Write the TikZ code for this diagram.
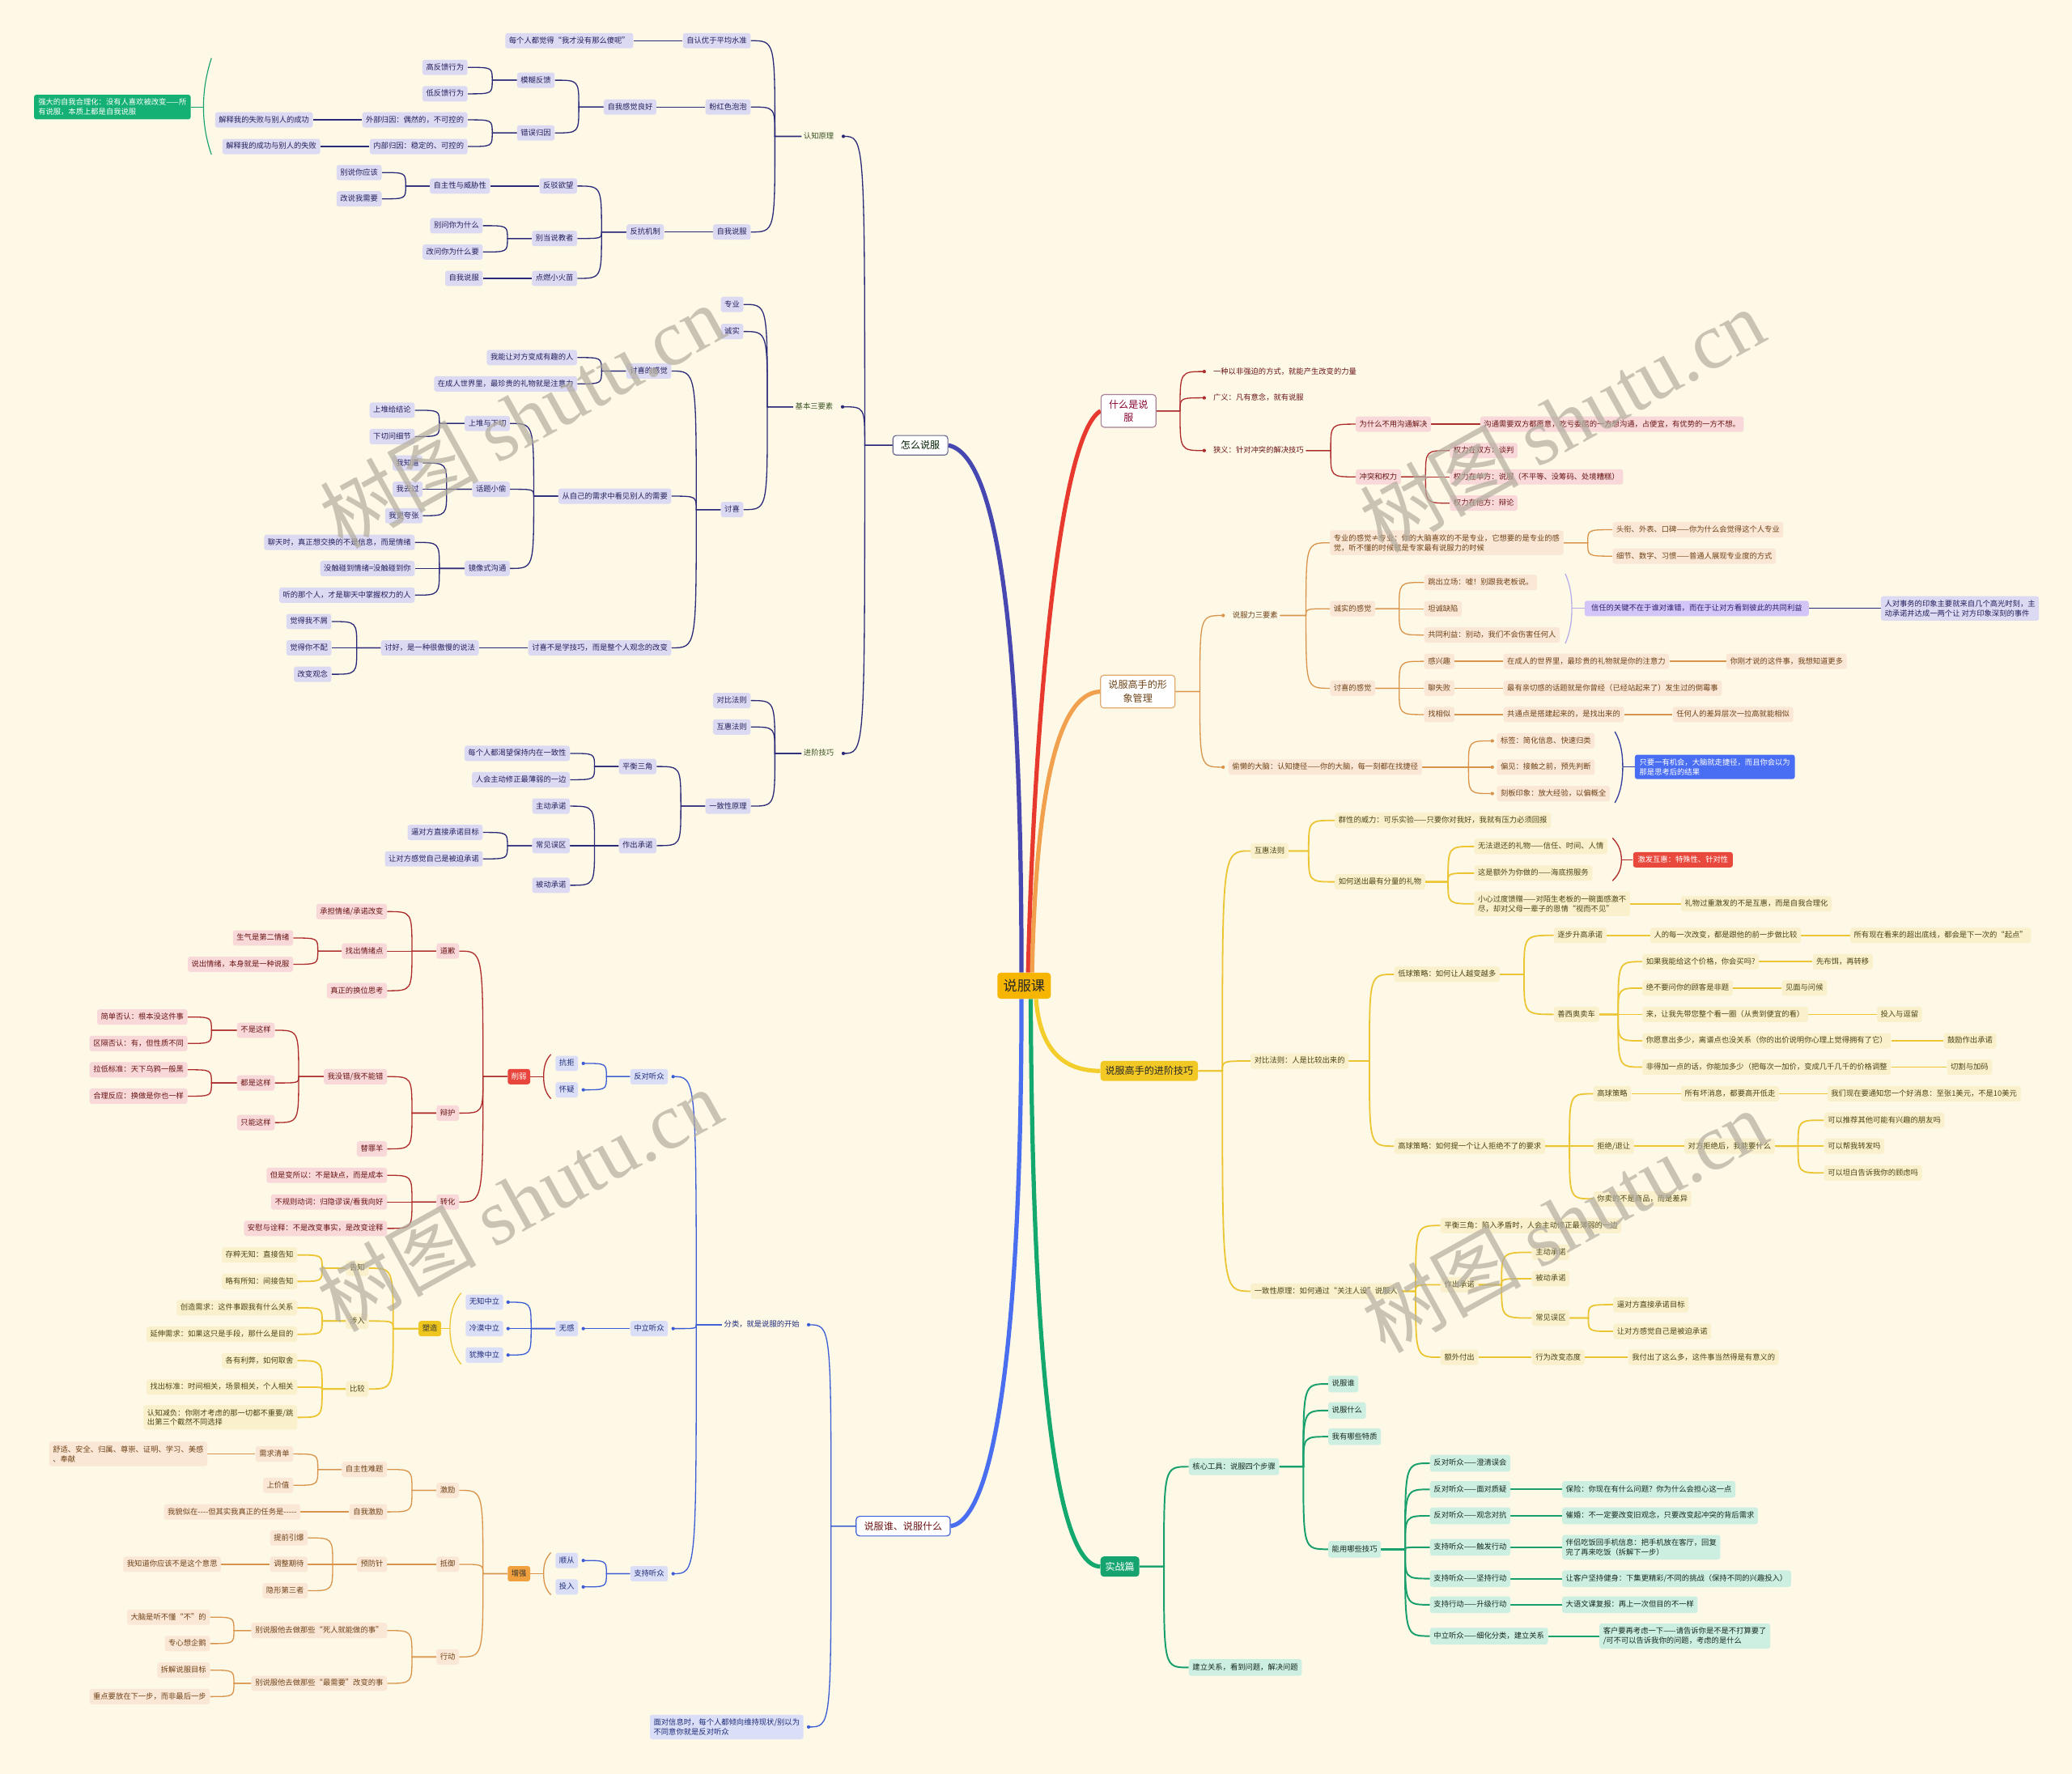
\documentclass[tikz,border=0pt]{standalone}
\usepackage{fontspec}
\setmainfont{Noto Sans CJK SC}
\newfontfamily\wmlat{Liberation Serif}
\usetikzlibrary{calc}
\pgfdeclarelayer{back}
\pgfdeclarelayer{lines}
\pgfsetlayers{back,lines,main}
\definecolor{bgc}{HTML}{FEF8E7}
\definecolor{puL}{HTML}{2B2A78}\definecolor{puF}{HTML}{DCDAF2}\definecolor{puT}{HTML}{23205C}\definecolor{labPT}{HTML}{3A5320}
\definecolor{buL}{HTML}{3B5CD4}\definecolor{buF}{HTML}{DADFF7}\definecolor{buT}{HTML}{1E2B78}
\definecolor{rdL}{HTML}{AE2B2B}\definecolor{rdF}{HTML}{F8D8D9}\definecolor{rdT}{HTML}{6A1515}
\definecolor{ogL}{HTML}{D8944A}\definecolor{ogF}{HTML}{FBE7D6}\definecolor{ogT}{HTML}{6E4318}
\definecolor{ylL}{HTML}{EBC532}\definecolor{ylF}{HTML}{FAF0CB}\definecolor{ylT}{HTML}{4A4515}
\definecolor{gnL}{HTML}{17A06C}\definecolor{gnF}{HTML}{CDEFE2}\definecolor{gnT}{HTML}{18291F}
\definecolor{mP}{HTML}{4747B2}\definecolor{mR}{HTML}{E8392E}\definecolor{mO}{HTML}{F1A14E}
\definecolor{mY}{HTML}{F2CD2C}\definecolor{mG}{HTML}{13A86E}\definecolor{mB}{HTML}{4A6EF0}
\definecolor{rootF}{HTML}{F6B500}\definecolor{m4F}{HTML}{F2C824}\definecolor{m5F}{HTML}{15A46F}
\definecolor{xrF}{HTML}{E8463C}\definecolor{szF}{HTML}{EFC61E}\definecolor{zqF}{HTML}{F0A03C}
\definecolor{redboxF}{HTML}{E9493D}\definecolor{blueboxF}{HTML}{4A6EF3}
\definecolor{trustF}{HTML}{D3C5F7}\definecolor{trustT}{HTML}{2A1E6A}\definecolor{trustL}{HTML}{B9AEE8}
\definecolor{sumF}{HTML}{14B074}
\definecolor{wmC}{HTML}{B3AD9F}
\newcommand\fsm{\fontsize{5.7}{7.2}\selectfont}
\newcommand\fmd{\fontsize{7.4}{10}\selectfont}
\newcommand\frt{\fontsize{10.5}{12}\selectfont}
\newcommand\lnk[4][]{\draw[#1] let \p1=(#2.west), \p2=(#4.east) in (\p1) -- (#3pt,\y1) .. controls (#3pt,\y2) and (#3pt,\y2) .. (\p2);}
\newcommand\lnkd[5][]{\draw[#1] let \p1=(#2.west), \p2=(#4.east) in (\p1) -- (#3pt,\y1) .. controls (#3pt,\y2) and (#3pt,\y2) .. ({\x2+#5pt},\y2) node[dotn]{};}
\newcommand\rnk[4][]{\draw[#1] let \p1=(#2.east), \p2=(#4.west) in (\p1) -- (#3pt,\y1) .. controls (#3pt,\y2) and (#3pt,\y2) .. (\p2);}
\newcommand\rnkd[5][]{\draw[#1] let \p1=(#2.east), \p2=(#4.west) in (\p1) -- (#3pt,\y1) .. controls (#3pt,\y2) and (#3pt,\y2) .. ({\x2-#5pt},\y2) node[dotn]{};}
\newcommand\lnks[4][]{\foreach \cc in {#4}{\lnk[#1]{#2}{#3}{\cc}}}
\newcommand\rnks[4][]{\foreach \cc in {#4}{\rnk[#1]{#2}{#3}{\cc}}}
\newcommand\lnkds[5][]{\foreach \cc in {#4}{\lnkd[#1]{#2}{#3}{\cc}{#5}}}
\newcommand\rnkds[5][]{\foreach \cc in {#4}{\rnkd[#1]{#2}{#3}{\cc}{#5}}}
\tikzset{
 nb/.style={font=\fsm, inner xsep=2.8pt, inner ysep=3pt, text height=4.6pt, text depth=1pt, rounded corners=1.8pt},
 two/.style={text height={}, text depth={}, align=left, inner ysep=3pt},
 pu/.style={nb, fill=puF, text=puT},
 bu/.style={nb, fill=buF, text=buT},
 rd/.style={nb, fill=rdF, text=rdT},
 og/.style={nb, fill=ogF, text=ogT},
 yl/.style={nb, fill=ylF, text=ylT},
 gn/.style={nb, fill=gnF, text=gnT, inner ysep=3.5pt},
 labP/.style={nb, inner xsep=1.5pt, text=labPT},
 labB/.style={nb, inner xsep=1.5pt, text=buT},
 labR/.style={nb, inner xsep=1.5pt, text=rdT},
 labO/.style={nb, inner xsep=1.5pt, text=ogT},
 xrs/.style={nb, fill=xrF, text=white},
 szs/.style={nb, fill=szF, text=black!80},
 zqs/.style={nb, fill=zqF, text=black!80},
 redbox/.style={nb, fill=redboxF, text=white, inner xsep=3.5pt},
 bluebox/.style={nb, two, fill=blueboxF, text=white, inner xsep=3.5pt},
 trust/.style={nb, fill=trustF, text=trustT, inner xsep=5pt},
 sumg/.style={nb, two, fill=sumF, text=white, inner xsep=3.2pt},
 mainw/.style={font=\fmd, fill=white, draw, rounded corners=2.5pt, inner xsep=6pt, inner ysep=4pt, line width=0.7pt},
 mainf/.style={font=\fmd, rounded corners=2.5pt, inner xsep=3.6pt, inner ysep=4.2pt},
 rootn/.style={font=\frt, fill=rootF, text=black!85, rounded corners=2.5pt, inner xsep=4.5pt, inner ysep=5pt},
 pl/.style={color=puL, line width=0.8pt},
 bl/.style={color=buL, line width=0.8pt},
 rl/.style={color=rdL, line width=0.8pt},
 ol/.style={color=ogL, line width=0.8pt},
 yll/.style={color=ylL, line width=1.1pt},
 gl/.style={color=gnL, line width=1.2pt},
 dotn/.style={circle, fill, inner sep=0pt, minimum size=2.6pt},
 thick main/.style={line width=3.2pt},
 wm/.style={font=\fontsize{60}{60}\selectfont, text=wmC, text opacity=0.7, rotate=29},
}
\begin{document}
\begin{tikzpicture}[x=1pt,y=-1pt]
\useasboundingbox (0,0) rectangle (1568,1342.6);
\begin{pgfonlayer}{back}
\fill[bgc] (0,0) rectangle (1568,1342.6);
\end{pgfonlayer}

% ---------- root and main topics
\node[rootn] (root) at (775,746) {说服课};
\node[mainw, draw=black!35!puF!60!puL, text=black!70!green!40!black] (m1) at (696.5,337) {怎么说服};
\node[mainw, draw=rdL!50!puL!60, text=purple!70!black, align=center] (m2) at (854,311) {什么是说\\服};
\node[mainw, draw=ogL!80, text=ogT, align=center] (m3) at (861,523.4) {说服高手的形\\象管理};
\node[mainf, fill=m4F, text=black!85] (m4) at (869.7,810.5) {说服高手的进阶技巧};
\node[mainf, fill=m5F, text=white] (m5) at (847.5,1185.6) {实战篇};
\node[mainw, draw=buL, text=rdT] (m6) at (683.5,1155) {说服谁、说服什么};

% ---------- branch: 怎么说服
\node[labP,anchor=east] (kA) at (632.7,103.2) {认知原理};
\node[labP,anchor=east] (kB) at (632.1,307.9) {基本三要素};
\node[labP,anchor=east] (kC) at (632.7,570.2) {进阶技巧};

\node[pu,anchor=east] (a1) at (568.2,30.8) {自认优于平均水准};
\node[pu,anchor=east] (a11) at (479.4,30.8) {每个人都觉得“我才没有那么傻呢”};
\node[pu,anchor=east] (a2) at (568.2,81) {粉红色泡泡};
\node[pu,anchor=east] (a21) at (496.9,81) {自我感觉良好};
\node[pu,anchor=east] (a211) at (419.9,60.7) {模糊反馈};
\node[pu,anchor=east] (a212) at (419.9,100.6) {错误归因};
\node[pu,anchor=east] (a2111) at (354,51) {高反馈行为};
\node[pu,anchor=east] (a2112) at (354,71) {低反馈行为};
\node[pu,anchor=east] (a2121) at (354,90.7) {外部归因：偶然的，不可控的};
\node[pu,anchor=east] (a2122) at (354,110.9) {内部归因：稳定的、可控的};
\node[pu,anchor=east] (a21211) at (237,90.7) {解释我的失败与别人的成功};
\node[pu,anchor=east] (a21221) at (242.5,110.9) {解释我的成功与别人的失败};
\node[sumg,anchor=east] (sg) at (144.5,81) {强大的自我合理化：没有人喜欢被改变——所\\有说服，本质上都是自我说服};
\coordinate (gT) at (160,44);
\coordinate (gM) at (154,81);
\coordinate (gB) at (160,117);
\node[pu,anchor=east] (a3) at (568.2,175.6) {自我说服};
\node[pu,anchor=east] (a31) at (502.7,175.6) {反抗机制};
\node[pu,anchor=east] (a311) at (436.9,140.8) {反驳欲望};
\node[pu,anchor=east] (a312) at (436.9,180.5) {别当说教者};
\node[pu,anchor=east] (a313) at (436.9,210.7) {点燃小火苗};
\node[pu,anchor=east] (a3111) at (371,140.8) {自主性与威胁性};
\node[pu,anchor=east] (a31111) at (289,130.6) {别说你应该};
\node[pu,anchor=east] (a31112) at (289,150.5) {改说我需要};
\node[pu,anchor=east] (a3121) at (365.5,170.8) {别问你为什么};
\node[pu,anchor=east] (a3122) at (365.5,190.7) {改问你为什么要};
\node[pu,anchor=east] (a3131) at (365.5,210.7) {自我说服};

\node[pu,anchor=east] (b1) at (562.7,230.4) {专业};
\node[pu,anchor=east] (b2) at (562.7,250.9) {诚实};
\node[pu,anchor=east] (b3) at (562.7,385.7) {讨喜};
\node[pu,anchor=east] (b31) at (508.2,280.8) {讨喜的感觉};
\node[pu,anchor=east] (b32) at (508.2,375.5) {从自己的需求中看见别人的需要};
\node[pu,anchor=east] (b33) at (508.2,490.3) {讨喜不是学技巧，而是整个人观念的改变};
\node[pu,anchor=east] (b311) at (436.9,270.6) {我能让对方变成有趣的人};
\node[pu,anchor=east] (b312) at (436.9,290.5) {在成人世界里，最珍贵的礼物就是注意力};
\node[pu,anchor=east] (b321) at (386,320.5) {上堆与下切};
\node[pu,anchor=east] (b322) at (386,370.3) {话题小偷};
\node[pu,anchor=east] (b323) at (386,430.2) {镜像式沟通};
\node[pu,anchor=east] (b3211) at (314,310.5) {上堆给结论};
\node[pu,anchor=east] (b3212) at (314,330.4) {下切问细节};
\node[pu,anchor=east] (b3221) at (320,350.4) {我知道};
\node[pu,anchor=east] (b3222) at (320,370.3) {我去过};
\node[pu,anchor=east] (b3223) at (320,390.3) {我更夸张};
\node[pu,anchor=east] (b3231) at (314,410.5) {聊天时，真正想交换的不是信息，而是情绪};
\node[pu,anchor=east] (b3232) at (314,430.2) {没触碰到情绪=没触碰到你};
\node[pu,anchor=east] (b3233) at (314,450.4) {听的那个人，才是聊天中掌握权力的人};
\node[pu,anchor=east] (b331) at (362.5,490.3) {讨好，是一种很傲慢的说法};
\node[pu,anchor=east] (b3311) at (251,470.4) {觉得我不屑};
\node[pu,anchor=east] (b3312) at (251,490.3) {觉得你不配};
\node[pu,anchor=east] (b3313) at (251,510.3) {改变观念};

\node[pu,anchor=east] (c1) at (568.2,530.2) {对比法则};
\node[pu,anchor=east] (c2) at (568.2,550.2) {互惠法则};
\node[pu,anchor=east] (c3) at (568.2,610.1) {一致性原理};
\node[pu,anchor=east] (c31) at (496.9,580.1) {平衡三角};
\node[pu,anchor=east] (c32) at (496.9,640) {作出承诺};
\node[pu,anchor=east] (c311) at (431.4,570.2) {每个人都渴望保持内在一致性};
\node[pu,anchor=east] (c312) at (431.4,590.1) {人会主动修正最薄弱的一边};
\node[pu,anchor=east] (c321) at (431.4,610.1) {主动承诺};
\node[pu,anchor=east] (c322) at (431.4,640) {常见误区};
\node[pu,anchor=east] (c323) at (431.4,670) {被动承诺};
\node[pu,anchor=east] (c3221) at (365.5,630) {逼对方直接承诺目标};
\node[pu,anchor=east] (c3222) at (365.5,650) {让对方感觉自己是被迫承诺};

% ---------- branch: 说服谁、说服什么
\node[labB,anchor=east] (f1) at (606.7,1002.6) {分类，就是说服的开始};
\node[bu,two,anchor=east] (f2) at (608.2,1307) {面对信息时，每个人都倾向维持现状/别以为\\不同意你就是反对听众};
\node[bu,anchor=east] (g1) at (505.6,814.8) {反对听众};
\node[bu,anchor=east] (g2) at (505.6,1005.5) {中立听众};
\node[bu,anchor=east] (g3) at (505.6,1191) {支持听众};
\node[bu,anchor=east] (g11) at (437.6,804.8) {抗拒};
\node[bu,anchor=east] (g12) at (437.6,824.8) {怀疑};
\node[bu,anchor=east] (g21) at (437.6,1005.5) {无感};
\node[bu,anchor=east] (g211) at (381,985.5) {无知中立};
\node[bu,anchor=east] (g212) at (381,1005.5) {冷漠中立};
\node[bu,anchor=east] (g213) at (381,1025.5) {犹豫中立};
\node[bu,anchor=east] (g31) at (437.6,1181) {顺从};
\node[bu,anchor=east] (g32) at (437.6,1201) {投入};
\node[xrs,anchor=east] (xr) at (401.4,814.8) {削弱};
\node[szs,anchor=east] (sz) at (334,1005.5) {塑造};
\node[zqs,anchor=east] (zq) at (401.4,1191) {增强};
\coordinate (xrT) at (416.9,798); \coordinate (xrM) at (411.4,814.8); \coordinate (xrB) at (416.9,831.5);
\coordinate (szT) at (349,978.5); \coordinate (szM) at (340.5,1005.5); \coordinate (szB) at (349,1032.5);
\coordinate (zqT) at (416.9,1175); \coordinate (zqM) at (411.4,1191); \coordinate (zqB) at (416.9,1207);

\node[rd,anchor=east] (r1) at (347.5,719.8) {道歉};
\node[rd,anchor=east] (r2) at (347.5,842.4) {辩护};
\node[rd,anchor=east] (r3) at (347.5,909.7) {转化};
\node[rd,anchor=east] (r11) at (293,689.9) {承担情绪/承诺改变};
\node[rd,anchor=east] (r12) at (293,719.8) {找出情绪点};
\node[rd,anchor=east] (r13) at (293,749.8) {真正的换位思考};
\node[rd,anchor=east] (r121) at (222,709.9) {生气是第二情绪};
\node[rd,anchor=east] (r122) at (222,729.8) {说出情绪，本身就是一种说服};
\node[rd,anchor=east] (r21) at (293,814.8) {我没错/我不能错};
\node[rd,anchor=east] (r22) at (293,869.5) {替罪羊};
\node[rd,anchor=east] (r211) at (208,779.7) {不是这样};
\node[rd,anchor=east] (r212) at (208,819.6) {都是这样};
\node[rd,anchor=east] (r213) at (208,849.6) {只能这样};
\node[rd,anchor=east] (r2111) at (142,769.7) {简单否认：根本没这件事};
\node[rd,anchor=east] (r2112) at (142,789.7) {区隔否认：有，但性质不同};
\node[rd,anchor=east] (r2121) at (142,809.6) {拉低标准：天下乌鸦一般黑};
\node[rd,anchor=east] (r2122) at (142,829.6) {合理反应：换做是你也一样};
\node[rd,anchor=east] (r31) at (293,889.5) {但是变所以：不是缺点，而是成本};
\node[rd,anchor=east] (r32) at (293,909.7) {不规则动词：归隐谬误/看我向好};
\node[rd,anchor=east] (r33) at (293,929.7) {安慰与诠释：不是改变事实，是改变诠释};

\node[yl,anchor=east] (y1) at (279,959.8) {告知};
\node[yl,anchor=east] (y2) at (279,999.8) {涉入};
\node[yl,anchor=east] (y3) at (279,1051.2) {比较};
\node[yl,anchor=east] (y11) at (225,949.8) {存粹无知：直接告知};
\node[yl,anchor=east] (y12) at (225,969.8) {略有所知：间接告知};
\node[yl,anchor=east] (y21) at (225,989.8) {创造需求：这件事跟我有什么关系};
\node[yl,anchor=east] (y22) at (225,1009.8) {延伸需求：如果这只是手段，那什么是目的};
\node[yl,anchor=east] (y31) at (225,1029.8) {各有利弊，如何取舍};
\node[yl,anchor=east] (y32) at (225,1049.8) {找出标准：时间相关，场景相关，个人相关};
\node[yl,two,anchor=east] (y33) at (225,1072.7) {认知减负：你刚才考虑的那一切都不重要/跳\\出第三个截然不同选择};

\node[og,anchor=east] (o1) at (347.5,1127.9) {激励};
\node[og,anchor=east] (o2) at (347.5,1183.9) {抵御};
\node[og,anchor=east] (o3) at (347.5,1254) {行动};
\node[og,anchor=east] (o11) at (293,1112.1) {自主性难题};
\node[og,anchor=east] (o12) at (293,1144.2) {自我激励};
\node[og,anchor=east] (o111) at (222,1100.4) {需求清单};
\node[og,anchor=east] (o112) at (222,1124.1) {上价值};
\node[og,two,anchor=east] (o1111) at (157,1100.4) {舒适、安全、归属、尊崇、证明、学习、美感\\、奉献};
\node[og,anchor=east] (o121) at (227.5,1144.2) {我貌似在-{}-{}-{}-但其实我真正的任务是-{}-{}-{}-{}-};
\node[og,anchor=east] (o21) at (293,1183.9) {预防针};
\node[og,anchor=east] (o211) at (233,1163.9) {提前引爆};
\node[og,anchor=east] (o212) at (233,1183.9) {调整期待};
\node[og,anchor=east] (o213) at (233,1203.9) {隐形第三者};
\node[og,anchor=east] (o2121) at (167.5,1183.9) {我知道你应该不是这个意思};
\node[og,anchor=east] (o31) at (293,1234) {别说服他去做那些“死人就能做的事”};
\node[og,anchor=east] (o32) at (293,1274) {别说服他去做那些“最需要”改变的事};
\node[og,anchor=east] (o311) at (159,1223.9) {大脑是听不懂“不”的};
\node[og,anchor=east] (o312) at (159,1243.9) {专心想企鹅};
\node[og,anchor=east] (o321) at (159,1264) {拆解说服目标};
\node[og,anchor=east] (o322) at (159,1284) {重点要放在下一步，而非最后一步};

% ---------- branch: 什么是说服
\node[labR,anchor=west] (w1) at (916.5,281.2) {一种以非强迫的方式，就能产生改变的力量};
\node[labR,anchor=west] (w2) at (916.5,301.1) {广义：凡有意念，就有说服};
\node[labR,anchor=west] (w3) at (916.5,341) {狭义：针对冲突的解决技巧};
\node[rd,anchor=west] (w31) at (1025.8,321) {为什么不用沟通解决};
\node[rd,anchor=west] (w32) at (1025.8,360.9) {冲突和权力};
\node[rd,anchor=west] (w311) at (1120,321) {沟通需要双方都愿意，吃亏委屈的一方想沟通，占便宜，有优势的一方不想。};
\node[rd,anchor=west] (w321) at (1097,341) {权力在双方：谈判};
\node[rd,anchor=west] (w322) at (1097,360.9) {权力在单方：说服（不平等、没筹码、处境糟糕）};
\node[rd,anchor=west] (w323) at (1097,380.8) {权力在他方：辩论};

% ---------- branch: 形象管理
\node[labO,anchor=west] (v1) at (931.1,465.8) {说服力三要素};
\node[og,anchor=west] (v2) at (929.5,580.6) {偷懒的大脑：认知捷径——你的大脑，每一刻都在找捷径};
\node[og,two,anchor=west] (v11) at (1006.3,410.8) {专业的感觉≠专业：你的大脑喜欢的不是专业，它想要的是专业的感\\觉，听不懂的时候就是专家最有说服力的时候};
\node[og,anchor=west] (v12) at (1006.3,460.7) {诚实的感觉};
\node[og,anchor=west] (v13) at (1006.3,520.9) {讨喜的感觉};
\node[og,anchor=west] (v111) at (1220.2,400.9) {头衔、外表、口碑——你为什么会觉得这个人专业};
\node[og,anchor=west] (v112) at (1220.2,420.9) {细节、数字、习惯——普通人展现专业度的方式};
\node[og,anchor=west] (v121) at (1077.6,440.8) {跳出立场：嘘！别跟我老板说。};
\node[og,anchor=west] (v122) at (1077.6,460.7) {坦诚缺陷};
\node[og,anchor=west] (v123) at (1077.6,480.6) {共同利益：别动，我们不会伤害任何人};
\node[trust,anchor=west] (tr) at (1199,460.5) {信任的关键不在于谁对谁错，而在于让对方看到彼此的共同利益};
\node[pu,two,anchor=west] (tr2) at (1423.2,460.5) {人对事务的印象主要就来自几个高光时刻，主\\动承诺并达成一两个让 对方印象深刻的事件};
\coordinate (trT) at (1184.5,434.2); \coordinate (trM) at (1189.5,460.5); \coordinate (trB) at (1184.5,487);
\node[og,anchor=west] (v131) at (1077.6,500.5) {感兴趣};
\node[og,anchor=west] (v132) at (1077.6,520.9) {聊失败};
\node[og,anchor=west] (v133) at (1077.6,540.8) {找相似};
\node[og,anchor=west] (v1311) at (1137.6,500.5) {在成人的世界里，最珍贵的礼物就是你的注意力};
\node[og,anchor=west] (v13111) at (1306.2,500.5) {你刚才说的这件事，我想知道更多};
\node[og,anchor=west] (v1321) at (1137.6,520.9) {最有亲切感的话题就是你曾经（已经站起来了）发生过的倒霉事};
\node[og,anchor=west] (v1331) at (1137.6,540.8) {共通点是搭建起来的，是找出来的};
\node[og,anchor=west] (v13311) at (1265.7,540.8) {任何人的差异层次一拉高就能相似};
\node[og,anchor=west] (v21) at (1132.6,560.7) {标签：简化信息、快速归类};
\node[og,anchor=west] (v22) at (1132.6,580.6) {偏见：接触之前，预先判断};
\node[og,anchor=west] (v23) at (1132.6,600.6) {刻板印象：放大经验，以偏概全};
\node[bluebox,anchor=west] (bx) at (1237,580.4) {只要一有机会，大脑就走捷径，而且你会以为\\那是思考后的结果};
\coordinate (bxT) at (1222,553.7); \coordinate (bxM) at (1228,580.4); \coordinate (bxB) at (1222,607.6);

% ---------- branch: 进阶技巧
\node[yl,anchor=west] (h1) at (946.3,644) {互惠法则};
\node[yl,anchor=west] (h2) at (946.3,803) {对比法则：人是比较出来的};
\node[yl,anchor=west] (h3) at (946.3,977.2) {一致性原理：如何通过“关注人设”说服人};
\node[yl,anchor=west] (h11) at (1010,620.9) {群性的威力：可乐实验——只要你对我好，我就有压力必须回报};
\node[yl,anchor=west] (h12) at (1010,667.4) {如何送出最有分量的礼物};
\node[yl,anchor=west] (h121) at (1115.5,640.6) {无法退还的礼物——信任、时间、人情};
\node[yl,anchor=west] (h122) at (1115.5,660.8) {这是额外为你做的——海底捞服务};
\node[yl,two,anchor=west] (h123) at (1115.5,684) {小心过度馈赠——对陌生老板的一碗面感激不\\尽，却对父母一辈子的恩情“视而不见”};
\node[redbox,anchor=west] (jf) at (1235.7,650.7) {激发互惠：特殊性、针对性};
\coordinate (jfT) at (1220.2,634.2); \coordinate (jfM) at (1227,650.7); \coordinate (jfB) at (1220.2,666.6);
\node[yl,anchor=west] (h1231) at (1272,684) {礼物过重激发的不是互惠，而是自我合理化};
\node[yl,anchor=west] (h21) at (1055,737.4) {低球策略：如何让人越变越多};
\node[yl,anchor=west] (h22) at (1055,867.4) {高球策略：如何提一个让人拒绝不了的要求};
\node[yl,anchor=west] (h211) at (1175.7,707.9) {逐步升高承诺};
\node[yl,anchor=west] (h2111) at (1248.7,707.9) {人的每一次改变，都是跟他的前一步做比较};
\node[yl,anchor=west] (h21111) at (1400,707.9) {所有现在看来的超出底线，都会是下一次的“起点”};
\node[yl,anchor=west] (h212) at (1175.7,767.7) {善西奥卖车};
\node[yl,anchor=west] (s1) at (1242.7,727.8) {如果我能给这个价格，你会买吗?};
\node[yl,anchor=west] (s2) at (1242.7,747.8) {绝不要问你的顾客是非题};
\node[yl,anchor=west] (s3) at (1242.7,767.7) {来，让我先带您整个看一圈（从贵到便宜的看）};
\node[yl,anchor=west] (s4) at (1242.7,787.7) {你愿意出多少，离谱点也没关系（你的出价说明你心理上觉得拥有了它）};
\node[yl,anchor=west] (s5) at (1242.7,807.6) {非得加一点的话，你能加多少（把每次一加价，变成几千几千的价格调整};
\node[yl,anchor=west] (s11) at (1371.5,727.8) {先布饵，再转移};
\node[yl,anchor=west] (s21) at (1348.2,747.8) {见面与问候};
\node[yl,anchor=west] (s31) at (1420.2,767.7) {投入与逗留};
\node[yl,anchor=west] (s41) at (1470.7,787.7) {鼓励作出承诺};
\node[yl,anchor=west] (s51) at (1473.2,807.6) {切割与加码};
\node[yl,anchor=west] (h221) at (1205.7,827.8) {高球策略};
\node[yl,anchor=west] (h2211) at (1272,827.8) {所有坏消息，都要高开低走};
\node[yl,anchor=west] (h22111) at (1382.7,827.8) {我们现在要通知您一个好消息：至张1美元，不是10美元};
\node[yl,anchor=west] (h222) at (1205.7,867.4) {拒绝/退让};
\node[yl,anchor=west] (h2221) at (1274.5,867.4) {对方拒绝后，我能要什么};
\node[yl,anchor=west] (q1) at (1380.2,847.8) {可以推荐其他可能有兴趣的朋友吗};
\node[yl,anchor=west] (q2) at (1380.2,867.4) {可以帮我转发吗};
\node[yl,anchor=west] (q3) at (1380.2,887.7) {可以坦白告诉我你的顾虑吗};
\node[yl,anchor=west] (h223) at (1205.7,907.3) {你卖的不是商品，而是差异};
\node[yl,anchor=west] (h31) at (1090,927.5) {平衡三角：陷入矛盾时，人会主动修正最薄弱的一边};
\node[yl,anchor=west] (h32) at (1090,972.3) {作出承诺};
\node[yl,anchor=west] (h33) at (1090,1027.2) {额外付出};
\node[yl,anchor=west] (h321) at (1159.1,947.8) {主动承诺};
\node[yl,anchor=west] (h322) at (1159.1,967.7) {被动承诺};
\node[yl,anchor=west] (h323) at (1159.1,997.5) {常见误区};
\node[yl,anchor=west] (h3231) at (1220.7,987.4) {逼对方直接承诺目标};
\node[yl,anchor=west] (h3232) at (1220.7,1007.6) {让对方感觉自己是被迫承诺};
\node[yl,anchor=west] (h331) at (1159.1,1027.2) {行为改变态度};
\node[yl,anchor=west] (h3311) at (1232,1027.2) {我付出了这么多，这件事当然得是有意义的};

% ---------- branch: 实战篇
\node[gn,anchor=west] (e1) at (899.5,1110) {核心工具：说服四个步骤};
\node[gn,anchor=west] (e2) at (899.5,1262) {建立关系，看到问题，解决问题};
\node[gn,anchor=west] (e11) at (1005,1047.4) {说服谁};
\node[gn,anchor=west] (e12) at (1005,1067.5) {说服什么};
\node[gn,anchor=west] (e13) at (1005,1087.3) {我有哪些特质};
\node[gn,anchor=west] (e14) at (1005,1172.5) {能用哪些技巧};
\node[gn,anchor=west] (t1) at (1082,1107.4) {反对听众——澄清误会};
\node[gn,anchor=west] (t2) at (1082,1127.2) {反对听众——面对质疑};
\node[gn,anchor=west] (t3) at (1082,1147.2) {反对听众——观念对抗};
\node[gn,anchor=west] (t4) at (1082,1171) {支持听众——触发行动};
\node[gn,anchor=west] (t5) at (1082,1194.7) {支持听众——坚持行动};
\node[gn,anchor=west] (t6) at (1082,1214.5) {支持行动——升级行动};
\node[gn,anchor=west] (t7) at (1082,1238.2) {中立听众——细化分类，建立关系};
\node[gn,anchor=west] (t21) at (1182,1127.2) {保险：你现在有什么问题？你为什么会担心这一点};
\node[gn,anchor=west] (t31) at (1182,1147.2) {催婚：不一定要改变旧观念，只要改变起冲突的背后需求};
\node[gn,two,anchor=west] (t41) at (1182,1171) {伴侣吃饭回手机信息：把手机放在客厅，回复\\完了再来吃饭（拆解下一步）};
\node[gn,anchor=west] (t51) at (1182,1194.7) {让客户坚持健身：下集更精彩/不同的挑战（保持不同的兴趣投入）};
\node[gn,anchor=west] (t61) at (1182,1214.5) {大语文课复报：再上一次但目的不一样};
\node[gn,two,anchor=west] (t71) at (1210.2,1238.2) {客户要再考虑一下——请告诉你是不是不打算要了\\/可不可以告诉我你的问题，考虑的是什么};

% ================= connectors
\begin{pgfonlayer}{lines}
% main thick branches
\draw[thick main, color=mP] ([xshift=-2pt]root.north) .. controls (773,500) and (758,345) .. (m1.east);
\draw[thick main, color=mR] ([xshift=3pt]root.north) .. controls (782,560) and (800,330) .. (m2.west);
\draw[thick main, color=mO] ([xshift=6pt]root.north) .. controls (784,600) and (800,525) .. (m3.west);
\draw[thick main, color=mY] ([xshift=9pt]root.south) .. controls (787,795) and (805,810.5) .. (m4.west);
\draw[thick main, color=mG] ([xshift=5pt]root.south) .. controls (781,1000) and (795,1185) .. (m5.west);
\draw[thick main, color=mB] ([xshift=-2pt]root.south) .. controls (773,1020) and (752,1150) .. (m6.east);

% 怎么说服
\lnkds[pl]{m1}{654.4}{kA,kB,kC}{5.5}
\lnks[pl]{kA}{586.4}{a1,a2,a3}
\draw[pl] (a1.west) -- (a11.east);
\draw[pl] (a2.west) -- (a21.east);
\lnks[pl]{a21}{438}{a211,a212}
\lnks[pl]{a211}{372.5}{a2111,a2112}
\lnks[pl]{a212}{372.5}{a2121,a2122}
\draw[pl] (a2121.west) -- (a21211.east);
\draw[pl] (a2122.west) -- (a21221.east);
\draw[color=gnL, line width=0.7pt] (sg.east) -- (gM);
\draw[color=gnL, line width=0.7pt] (gT) .. controls (155.5,58) and (154,70) .. (gM) .. controls (154,92) and (155.5,104) .. (gB);
\draw[pl] (a3.west) -- (a31.east);
\lnks[pl]{a31}{455.2}{a311,a312,a313}
\draw[pl] (a311.west) -- (a3111.east);
\lnks[pl]{a3111}{307}{a31111,a31112}
\lnks[pl]{a312}{384}{a3121,a3122}
\draw[pl] (a313.west) -- (a3131.east);
\lnks[pl]{kB}{580.7}{b1,b2,b3}
\lnks[pl]{b3}{526.9}{b31,b32,b33}
\lnks[pl]{b31}{455.2}{b311,b312}
\lnks[pl]{b32}{403.9}{b321,b322,b323}
\lnks[pl]{b321}{332.5}{b3211,b3212}
\lnks[pl]{b322}{338}{b3221,b3222,b3223}
\lnks[pl]{b323}{332.5}{b3231,b3232,b3233}
\draw[pl] (b33.west) -- (b331.east);
\lnks[pl]{b331}{270}{b3311,b3312,b3313}
\lnks[pl]{kC}{586.4}{c1,c2,c3}
\lnks[pl]{c3}{515.2}{c31,c32}
\lnks[pl]{c31}{449.9}{c311,c312}
\lnks[pl]{c32}{449.9}{c321,c322,c323}
\lnks[pl]{c322}{384}{c3221,c3222}

% 说服谁、说服什么
\lnkd[bl]{m6}{628.9}{f1}{5.2}
\lnkd[bl]{m6}{628.9}{f2}{3.7}
\lnkds[bl]{f1}{526.9}{g1,g2,g3}{3.8}
\lnkds[bl]{g1}{458.9}{g11,g12}{3.8}
\lnkd[bl]{g2}{458.9}{g21}{3.8}
\lnkds[bl]{g21}{401.9}{g211,g212,g213}{3.5}
\lnkds[bl]{g3}{458.9}{g31,g32}{3.8}
\draw[rl] (xr.east) -- (xrM);
\draw[rl] (xrT) .. controls (412.2,803) and (411.4,809) .. (xrM) .. controls (411.4,820.5) and (412.2,826.5) .. (xrB);
\draw[yll, line width=0.8pt] (sz.east) -- (szM);
\draw[yll, line width=0.8pt] (szT) .. controls (342,987) and (340.5,997) .. (szM) .. controls (340.5,1014) and (342,1024) .. (szB);
\draw[ol] (zq.east) -- (zqM);
\draw[ol] (zqT) .. controls (412.2,1180) and (411.4,1185) .. (zqM) .. controls (411.4,1197) and (412.2,1202) .. (zqB);
\lnks[rl]{xr}{365.5}{r1,r2,r3}
\lnks[rl]{r1}{311.75}{r11,r12,r13}
\lnks[rl]{r12}{240.5}{r121,r122}
\lnks[rl]{r2}{311.75}{r21,r22}
\lnks[rl]{r21}{226}{r211,r212,r213}
\lnks[rl]{r211}{160}{r2111,r2112}
\lnks[rl]{r212}{160}{r2121,r2122}
\lnks[rl]{r3}{311.75}{r31,r32,r33}
\lnks[yll]{sz}{297.5}{y1,y2,y3}
\lnks[yll]{y1}{243.75}{y11,y12}
\lnks[yll]{y2}{243.75}{y21,y22}
\lnks[yll]{y3}{243.75}{y31,y32,y33}
\lnks[ol]{zq}{365.5}{o1,o2,o3}
\lnks[ol]{o1}{311.75}{o11,o12}
\lnks[ol]{o11}{240.5}{o111,o112}
\draw[ol] (o111.west) -- (o1111.east);
\draw[ol] (o12.west) -- (o121.east);
\draw[ol] (o2.west) -- (o21.east);
\lnks[ol]{o21}{251.75}{o211,o212,o213}
\draw[ol] (o212.west) -- (o2121.east);
\lnks[ol]{o3}{311.75}{o31,o32}
\lnks[ol]{o31}{177}{o311,o312}
\lnks[ol]{o32}{177}{o321,o322}

% 什么是说服
\rnkds[rl]{m2}{893}{w1,w2,w3}{5.2}
\rnks[rl]{w3}{1007}{w31,w32}
\draw[rl] (w31.east) -- (w311.west);
\rnks[rl]{w32}{1078.8}{w321,w322,w323}

% 形象管理
\rnkd[ol]{m3}{908}{v1}{5.5}
\rnkd[ol]{m3}{908}{v2}{3.9}
\rnks[ol]{v1}{988.3}{v11,v12,v13}
\rnks[ol]{v11}{1201.5}{v111,v112}
\rnks[ol]{v12}{1058.8}{v121,v122,v123}
\rnks[ol]{v13}{1058.8}{v131,v132,v133}
\draw[color=trustL, line width=0.8pt] (trT) .. controls (1188.5,443) and (1189.5,452) .. (trM) .. controls (1189.5,469) and (1188.5,478) .. (trB);
\draw[color=trustL, line width=0.8pt] (trM) -- (tr.west);
\draw[pl] (tr.east) -- (tr2.west);
\draw[ol] (v131.east) -- (v1311.west);
\draw[ol] (v1311.east) -- (v13111.west);
\draw[ol] (v132.east) -- (v1321.west);
\draw[ol] (v133.east) -- (v1331.west);
\draw[ol] (v1331.east) -- (v13311.west);
\rnkds[ol]{v2}{1111.3}{v21,v22,v23}{3.3}
\draw[color=puL!60!buL, line width=0.8pt] (bxT) .. controls (1227,562) and (1228,572) .. (bxM) .. controls (1228,589) and (1227,599) .. (bxB);
\draw[color=puL!60!buL, line width=0.8pt] (bxM) -- (bx.west);

% 进阶技巧
\rnks[yll]{m4}{925}{h1,h2,h3}
\rnks[yll]{h1}{990.3}{h11,h12}
\rnks[yll]{h12}{1095.8}{h121,h122,h123}
\draw[rl] (jfT) .. controls (1225.5,639.5) and (1227,645) .. (jfM) .. controls (1227,656.5) and (1225.5,661.5) .. (jfB);
\draw[rl] (jfM) -- (jf.west);
\draw[yll] (h123.east) -- (h1231.west);
\rnks[yll]{h2}{1036.3}{h21,h22}
\rnks[yll]{h21}{1153.3}{h211,h212}
\draw[yll] (h211.east) -- (h2111.west);
\draw[yll] (h2111.east) -- (h21111.west);
\rnks[yll]{h212}{1224.5}{s1,s2,s3,s4,s5}
\draw[yll] (s1.east) -- (s11.west);
\draw[yll] (s2.east) -- (s21.west);
\draw[yll] (s3.east) -- (s31.west);
\draw[yll] (s4.east) -- (s41.west);
\draw[yll] (s5.east) -- (s51.west);
\rnks[yll]{h22}{1187.7}{h221,h222,h223}
\draw[yll] (h221.east) -- (h2211.west);
\draw[yll] (h2211.east) -- (h22111.west);
\draw[yll] (h222.east) -- (h2221.west);
\rnks[yll]{h2221}{1360.7}{q1,q2,q3}
\rnks[yll]{h3}{1071.3}{h31,h32,h33}
\rnks[yll]{h32}{1136.3}{h321,h322,h323}
\rnks[yll]{h323}{1202}{h3231,h3232}
\draw[yll] (h33.east) -- (h331.west);
\draw[yll] (h331.east) -- (h3311.west);

% 实战篇
\rnks[gl]{m5}{880.8}{e1,e2}
\rnks[gl]{e1}{986.3}{e11,e12,e13,e14}
\rnks[gl]{e14}{1063.3}{t1,t2,t3,t4,t5,t6,t7}
\draw[gl] (t2.east) -- (t21.west);
\draw[gl] (t3.east) -- (t31.west);
\draw[gl] (t4.east) -- (t41.west);
\draw[gl] (t5.east) -- (t51.west);
\draw[gl] (t6.east) -- (t61.west);
\draw[gl] (t7.east) -- (t71.west);
\end{pgfonlayer}

% ---------- watermarks
\node[wm] (wm1) at (395,315) {树图 {\wmlat shutu.cn}};
\node[wm] (wm2) at (1182,318) {树图 {\wmlat shutu.cn}};
\node[wm] (wm3) at (393,908) {树图 {\wmlat shutu.cn}};
\node[wm] (wm4) at (1184,924) {树图 {\wmlat shutu.cn}};
\end{tikzpicture}
\end{document}
